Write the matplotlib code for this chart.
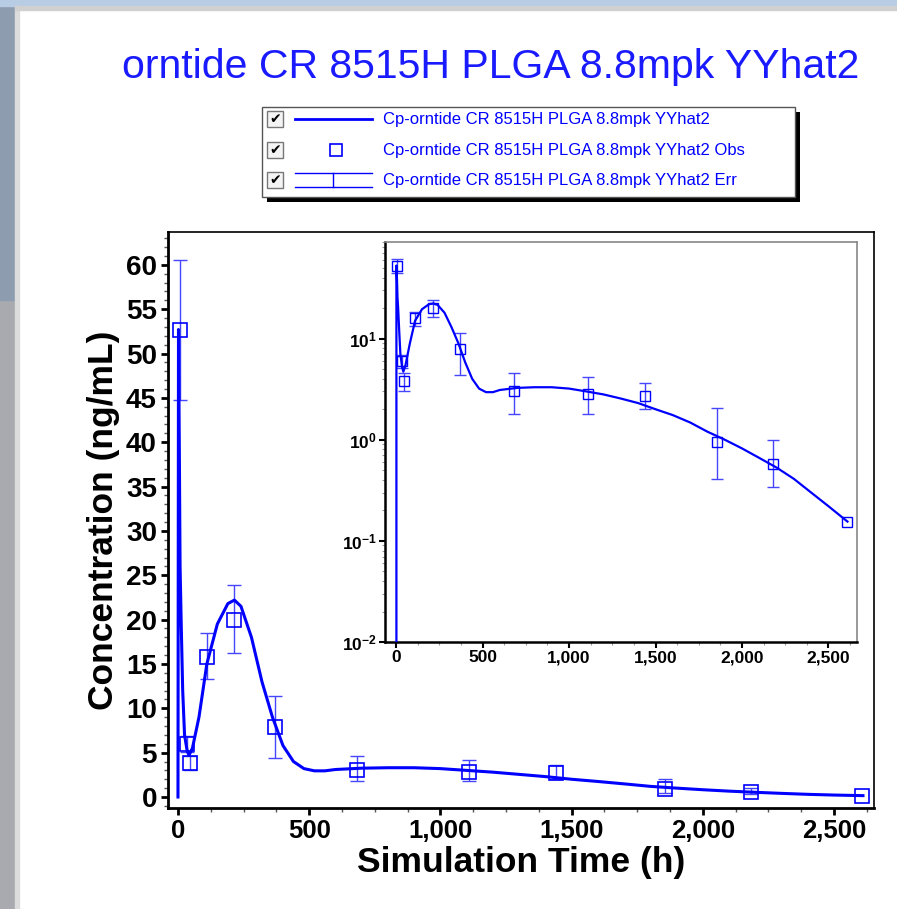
import numpy as np
import matplotlib
matplotlib.use("Agg")
import matplotlib.pyplot as plt
from matplotlib.patches import Rectangle
from matplotlib.lines import Line2D
from matplotlib.ticker import MultipleLocator, FuncFormatter, FixedLocator, LogLocator, NullFormatter

plt.rcParams['font.family'] = ['Liberation Sans', 'DejaVu Sans']
plt.rcParams['mathtext.fontset'] = 'custom'
plt.rcParams['mathtext.rm'] = 'Liberation Sans'
plt.rcParams['mathtext.bf'] = 'Liberation Sans:bold'

# Datos
titulo = "orntide CR 8515H PLGA 8.8mpk YYhat2"
etiquetas = ["Cp-orntide CR 8515H PLGA 8.8mpk YYhat2",
             "Cp-orntide CR 8515H PLGA 8.8mpk YYhat2 Obs",
             "Cp-orntide CR 8515H PLGA 8.8mpk YYhat2 Err"]

# Curva simulada
t_sim = [0, 2, 5, 8, 12, 18, 25, 35, 42, 55, 80, 110, 150, 190, 215, 240, 280,
         320, 360, 400, 440, 480, 520, 560, 600, 700, 800, 900, 1000, 1100, 1200,
         1300, 1400, 1500, 1600, 1700, 1800, 1900, 2000, 2100, 2200, 2300, 2400,
         2500, 2610]
cp_sim = [0, 52.7, 40, 26, 20, 12, 7, 5.2, 4.7, 5.5, 9, 15, 19.5, 21.8, 22.2,
          21.5, 18, 13, 9, 5.8, 4.0, 3.2, 2.95, 2.95, 3.1, 3.25, 3.3, 3.3, 3.2,
          3.0, 2.8, 2.55, 2.3, 2.0, 1.75, 1.48, 1.2, 1.0, 0.82, 0.66, 0.53, 0.41,
          0.3, 0.22, 0.155]

# Observaciones
t_obs = [8, 34, 44, 112, 215, 371, 682, 1110, 1440, 1854, 2182, 2608]
cp_obs = [52.7, 6.0, 3.8, 15.8, 20.0, 7.9, 3.0, 2.8, 2.7, 0.95, 0.58, 0.155]
cp_inf = [44.8, 5.1, 3.0, 13.3, 16.2, 4.4, 1.8, 1.8, 2.0, 0.41, 0.34, np.nan]
cp_sup = [60.5, 6.9, 4.6, 18.5, 23.9, 11.4, 4.6, 4.2, 3.6, 2.07, 1.0, np.nan]

W, H = 897, 909
azul = '#0000ff'
azul_err = '#4646ff'


def fx(px):
    return px / W


def fy(py):
    return 1 - py / H


fig = plt.figure(figsize=(W / 100, H / 100), dpi=100)

# Marco de ventana
fig.patches.append(Rectangle((0, 0), fx(15), 1, transform=fig.transFigure,
                             color='#a8aab0', zorder=0))
fig.patches.append(Rectangle((0, fy(300)), fx(15), fy(0) - fy(300), transform=fig.transFigure,
                             color='#8e9cb0', zorder=0))
fig.patches.append(Rectangle((0, fy(6)), 1, fy(0) - fy(6), transform=fig.transFigure,
                             color='#b8cce4', zorder=0))
fig.patches.append(Rectangle((fx(15), 0), fx(4), fy(6), transform=fig.transFigure,
                             color='#dcdcdc', zorder=0))
fig.patches.append(Rectangle((fx(15), fy(10)), 1, fy(6) - fy(10), transform=fig.transFigure,
                             color='#d0d0d0', zorder=0))

fig.text(fx(491), fy(67), titulo, ha='center', va='center', fontsize=29.5, color='#1a1aff')

# Leyenda
x0, x1, y0, y1 = 262, 795, 107, 197
fig.patches.append(Rectangle((fx(x0 + 5), fy(y1 + 5)), fx(x1 - x0), fy(y0) - fy(y1),
                             transform=fig.transFigure, facecolor='black', edgecolor='none'))
fig.patches.append(Rectangle((fx(x0), fy(y1)), fx(x1 - x0), fy(y0) - fy(y1),
                             transform=fig.transFigure, facecolor='white', edgecolor='#555555', lw=1))
filas = [119, 150, 180]
for i, yy in enumerate(filas):
    fig.patches.append(Rectangle((fx(267), fy(yy + 8)), fx(16), fy(yy - 8) - fy(yy + 8),
                                 transform=fig.transFigure, facecolor='#f4f4f4', edgecolor='#777777', lw=1))
    fig.text(fx(275), fy(yy), '\u2714', ha='center', va='center', fontsize=10,
             color='black', family='DejaVu Sans')
    fig.text(fx(383), fy(yy), etiquetas[i], ha='left', va='center', fontsize=12, color=azul)
fig.lines.append(Line2D([fx(295), fx(372)], [fy(filas[0]), fy(filas[0])], transform=fig.transFigure,
                        color=azul, lw=2))
fig.lines.append(Line2D([fx(336)], [fy(filas[1])], transform=fig.transFigure, color=azul,
                        marker='s', ms=8, mfc='none', mec=azul, mew=1.2, ls='none'))
for yy in (filas[2] - 7, filas[2] + 7):
    fig.lines.append(Line2D([fx(295), fx(372)], [fy(yy), fy(yy)], transform=fig.transFigure,
                            color=azul, lw=1))
fig.lines.append(Line2D([fx(333), fx(333)], [fy(filas[2] - 7), fy(filas[2] + 7)],
                        transform=fig.transFigure, color=azul, lw=1))

t_obs = np.array(t_obs)
cp_obs = np.array(cp_obs)
err = [cp_obs - np.array(cp_inf), np.array(cp_sup) - cp_obs]

miles = FuncFormatter(lambda v, p: f"{int(v):,}")

# Grafica principal
ax = fig.add_axes([fx(168), fy(808), fx(874 - 168), fy(232) - fy(808)])
ax.plot(t_sim, cp_sim, color=azul, lw=2.2, zorder=3)
ax.errorbar(t_obs, cp_obs, yerr=err, fmt='none', ecolor=azul_err, elinewidth=1,
            capsize=5, capthick=1, zorder=2)
ax.plot(t_obs, cp_obs, 's', ms=10, mfc='none', mec=azul, mew=1.2, zorder=4)
ax.set_xlim(-38, 2652)
ax.set_ylim(-1.24, 63.7)
ax.xaxis.set_major_locator(MultipleLocator(500))
ax.xaxis.set_minor_locator(MultipleLocator(125))
ax.xaxis.set_major_formatter(miles)
ax.yaxis.set_major_locator(MultipleLocator(5))
ax.yaxis.set_minor_locator(MultipleLocator(1))
ax.tick_params(which='major', direction='out', length=5, width=2, pad=3)
ax.tick_params(axis='x', which='major', labelsize=18.5)
ax.tick_params(axis='y', which='major', labelsize=20)
ax.tick_params(which='minor', direction='out', length=3, width=1, color='#555555')
for lab in ax.get_xticklabels() + ax.get_yticklabels():
    lab.set_fontweight('bold')
for s in ('left', 'bottom'):
    ax.spines[s].set_linewidth(2)
for s in ('top', 'right'):
    ax.spines[s].set_linewidth(1.2)
ax.set_xlabel("Simulation Time (h)", fontsize=25.5, fontweight='bold', labelpad=2)
ax.set_ylabel("Concentration (ng/mL)", fontsize=25.5, fontweight='bold', labelpad=4)

# Grafica insertada (escala log)
axi = fig.add_axes([fx(385), fy(642), fx(857 - 385), fy(242) - fy(642)])
axi.plot(t_sim, cp_sim, color=azul, lw=1.6, zorder=3)
axi.errorbar(t_obs, cp_obs, yerr=err, fmt='none', ecolor=azul_err, elinewidth=1,
             capsize=4, capthick=1, zorder=2)
axi.plot(t_obs, cp_obs, 's', ms=7, mfc='none', mec=azul, mew=1, zorder=4)
axi.set_yscale('log')
axi.set_xlim(-64, 2665)
axi.set_ylim(0.01, 90)
axi.xaxis.set_major_locator(MultipleLocator(500))
axi.xaxis.set_minor_locator(MultipleLocator(125))
axi.xaxis.set_major_formatter(miles)
decadas = [0.01, 0.1, 1, 10]
axi.yaxis.set_major_locator(FixedLocator(decadas))
axi.set_yticklabels([r'$\mathbf{10^{%d}}$' % int(np.log10(d)) for d in decadas])
axi.yaxis.set_minor_locator(LogLocator(base=10, subs=np.arange(2, 10)))
axi.yaxis.set_minor_formatter(NullFormatter())
axi.tick_params(which='major', direction='out', length=4, width=1.5, labelsize=12.5, pad=2)
axi.tick_params(which='minor', direction='out', length=2, width=0.8, color='#999999')
for lab in axi.get_xticklabels() + axi.get_yticklabels():
    lab.set_fontweight('bold')
for s in ('left', 'bottom'):
    axi.spines[s].set_linewidth(1.8)
for s in ('top', 'right'):
    axi.spines[s].set_linewidth(1.2)
    axi.spines[s].set_color('#888888')

fig.savefig("out.png", dpi=100)
